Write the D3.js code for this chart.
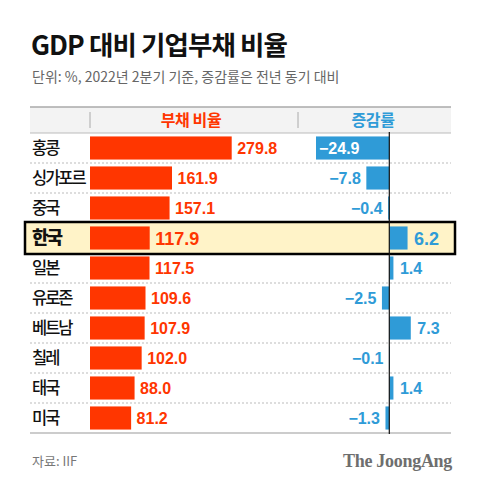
<!DOCTYPE html>
<html>
<head>
<meta charset="utf-8">
<script src="https://cdn.jsdelivr.net/npm/d3@7"></script>
<style>
  body { margin: 0; background: #fff; }
  svg { display: block; }
</style>
</head>
<body>
<div id="chart"></div>
<script>
    // data
    var countries = ["홍콩", "싱가포르", "중국", "한국", "일본", "유로존", "베트남", "칠레", "태국", "미국"];
    var debtRatio = [279.8, 161.9, 157.1, 117.9, 117.5, 109.6, 107.9, 102.0, 88.0, 81.2];
    var changeRate = [-24.9, -7.8, -0.4, 6.2, 1.4, -2.5, 7.3, -0.1, 1.4, -1.3];
    var highlight = "한국";

    var data = countries.map(function (c, i) {
      return { group: c, debt: debtRatio[i], change: changeRate[i] };
    });

    var W = 480, H = 489;
    var red = "#ff3600", blue = "#2f9bd7";
    var krFont = "'Noto Sans CJK KR', sans-serif";
    var numFont = "'Liberation Sans', Arial, sans-serif";

    var svg = d3.select("#chart")
      .append("svg")
      .attr("width", W)
      .attr("height", H);

    // Title
    svg.append("text")
      .attr("x", 31)
      .attr("y", 55)
      .attr("font-family", krFont)
      .attr("font-weight", 700)
      .attr("font-size", 26.5)
      .attr("letter-spacing", -0.9)
      .attr("fill", "#111")
      .text("GDP 대비 기업부채 비율");

    // Subtitle
    svg.append("text")
      .attr("x", 32)
      .attr("y", 82)
      .attr("font-family", krFont)
      .attr("font-size", 14)
      .attr("letter-spacing", 0)
      .attr("fill", "#666")
      .text("단위: %, 2022년 2분기 기준, 증감률은 전년 동기 대비");

    // row scale
    var y = d3.scaleBand()
      .domain(countries)
      .range([133, 433])
      .paddingInner(0.23)
      .paddingOuter(0.115);
    var step = y.step();
    var rowTop = function (c) { return y(c) - y.paddingOuter() * step; };

    // bar scales
    var x = d3.scaleLinear().domain([0, 279.8]).range([90, 231.7]);
    var xc = d3.scaleLinear().domain([-24.9, 0]).range([316, 389.3]);

    // header band
    svg.append("rect")
      .attr("x", 30).attr("y", 107)
      .attr("width", 421).attr("height", 26)
      .attr("fill", "#f3f3f3");
    svg.append("line")
      .attr("x1", 30).attr("x2", 451)
      .attr("y1", 107).attr("y2", 107)
      .attr("stroke", "#aaa").attr("stroke-width", 1.5);
    svg.append("line")
      .attr("x1", 30).attr("x2", 451)
      .attr("y1", 133).attr("y2", 133)
      .attr("stroke", "#bbb").attr("stroke-width", 1);
    [90, 298].forEach(function (sx) {
      svg.append("line")
        .attr("x1", sx).attr("x2", sx)
        .attr("y1", 112).attr("y2", 128)
        .attr("stroke", "#aaa").attr("stroke-width", 1);
    });
    svg.append("text")
      .attr("x", 191).attr("y", 126)
      .attr("text-anchor", "middle")
      .attr("font-family", krFont).attr("font-weight", 700)
      .attr("font-size", 16).attr("letter-spacing", -0.4)
      .attr("fill", red)
      .text("부채 비율");
    svg.append("text")
      .attr("x", 373).attr("y", 126)
      .attr("text-anchor", "middle")
      .attr("font-family", krFont).attr("font-weight", 700)
      .attr("font-size", 16).attr("letter-spacing", -0.4)
      .attr("fill", blue)
      .text("증감률");

    // dotted row separators
    svg.selectAll(".sep")
      .data(countries.slice(1))
      .enter()
      .append("line")
      .attr("class", "sep")
      .attr("x1", 30).attr("x2", 451)
      .attr("y1", function (c) { return rowTop(c); })
      .attr("y2", function (c) { return rowTop(c); })
      .attr("stroke", "#bbb")
      .attr("stroke-dasharray", "2,2");

    // highlight row
    svg.append("rect")
      .attr("x", 25)
      .attr("y", rowTop(highlight) - 1)
      .attr("width", 430)
      .attr("height", step + 2)
      .attr("fill", "#fff3c8")
      .attr("stroke", "#000")
      .attr("stroke-width", 2.5);

    // bottom line
    svg.append("line")
      .attr("x1", 30).attr("x2", 451)
      .attr("y1", 433).attr("y2", 433)
      .attr("stroke", "#ccc").attr("stroke-width", 2);

    var isHL = function (d) { return d.group === highlight; };
    var mid = function (d) { return y(d.group) + y.bandwidth() / 2; };

    // row labels
    svg.selectAll(".lab")
      .data(data)
      .enter()
      .append("text")
      .attr("class", "lab")
      .attr("x", 32)
      .attr("y", function (d) { return mid(d) + 6; })
      .attr("font-family", krFont)
      .attr("font-weight", function (d) { return isHL(d) ? 900 : 500; })
      .attr("font-size", function (d) { return isHL(d) ? 18 : 16.5; })
      .attr("letter-spacing", -2)
      .attr("fill", "#111")
      .text(function (d) { return d.group; });

    // debt bars
    svg.selectAll(".debt")
      .data(data)
      .enter()
      .append("rect")
      .attr("class", "debt")
      .attr("x", x(0))
      .attr("y", function (d) { return y(d.group); })
      .attr("width", function (d) { return x(d.debt) - x(0); })
      .attr("height", y.bandwidth())
      .attr("fill", red);

    svg.selectAll(".debtLab")
      .data(data)
      .enter()
      .append("text")
      .attr("class", "debtLab")
      .attr("x", function (d) { return x(d.debt) + 5.5; })
      .attr("y", function (d) { return mid(d) + (isHL(d) ? 6.5 : 6); })
      .attr("font-family", numFont)
      .attr("font-weight", 700)
      .attr("font-size", function (d) { return isHL(d) ? 18 : 16; })
      .attr("fill", red)
      .text(function (d) { return d3.format(".1f")(d.debt); });

    // change bars
    svg.selectAll(".chg")
      .data(data)
      .enter()
      .append("rect")
      .attr("class", "chg")
      .attr("x", function (d) { return Math.min(xc(d.change), xc(0)); })
      .attr("y", function (d) { return y(d.group); })
      .attr("width", function (d) { return Math.max(Math.abs(xc(d.change) - xc(0)), 0.8); })
      .attr("height", y.bandwidth())
      .attr("fill", blue);

    var fmt = function (v) { return (v < 0 ? "−" : "") + d3.format(".1f")(Math.abs(v)); };
    svg.selectAll(".chgLab")
      .data(data)
      .enter()
      .append("text")
      .attr("class", "chgLab")
      .attr("x", function (d) {
        if (d.change < -20) return xc(d.change) + 3;
        return d.change < 0 ? xc(d.change) - 5.5 : xc(d.change) + 6.5;
      })
      .attr("y", function (d) { return mid(d) + (isHL(d) ? 6.5 : 6); })
      .attr("text-anchor", function (d) {
        return (d.change < 0 && d.change >= -20) ? "end" : "start";
      })
      .attr("font-family", numFont)
      .attr("font-weight", 700)
      .attr("font-size", function (d) { return isHL(d) ? 18 : 16; })
      .attr("fill", function (d) { return d.change < -20 ? "#fff" : blue; })
      .text(function (d) { return fmt(d.change); });

    // zero line
    svg.append("line")
      .attr("x1", xc(0)).attr("x2", xc(0))
      .attr("y1", 132).attr("y2", 434)
      .attr("stroke", "#111").attr("stroke-width", 1.2);

    // footer
    svg.append("text")
      .attr("x", 32).attr("y", 466)
      .attr("font-family", krFont)
      .attr("font-size", 13)
      .attr("fill", "#777")
      .text("자료: IIF");
    svg.append("text")
      .attr("x", 452).attr("y", 467)
      .attr("text-anchor", "end")
      .attr("font-family", "'Liberation Serif', 'DejaVu Serif', serif")
      .attr("font-weight", 700)
      .attr("font-size", 18)
      .attr("letter-spacing", -0.3)
      .attr("fill", "#6e6e6e")
      .text("The JoongAng");
</script>
</body>
</html>
